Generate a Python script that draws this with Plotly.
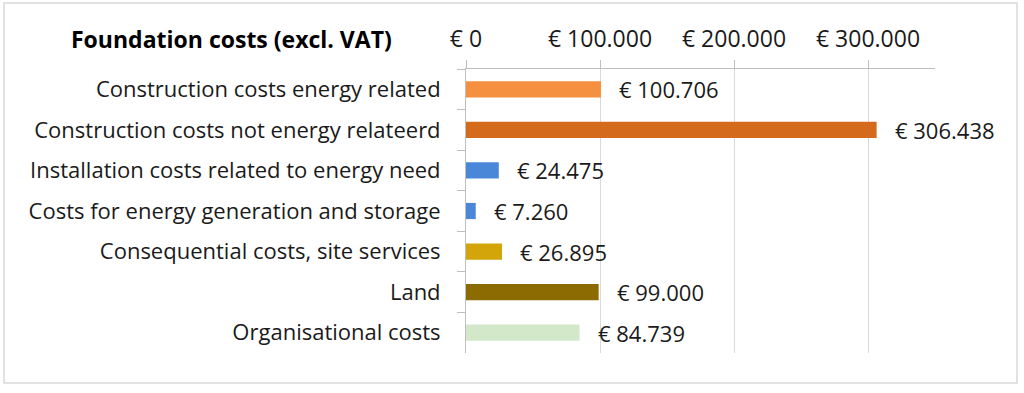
import plotly.graph_objects as go

categories = [
    "Construction costs energy related",
    "Construction costs not energy relateerd",
    "Installation costs related to energy need",
    "Costs for energy generation and storage",
    "Consequential costs, site services",
    "Land",
    "Organisational costs",
]
values = [100706, 306438, 24475, 7260, 26895, 99000, 84739]
bar_colors = ["#F4903F", "#D36A1C", "#4A87D8", "#4A87D8", "#D4A40B", "#8B6B02", "#D2E8C8"]
tick_values = [0, 100000, 200000, 300000]
title_text = "Foundation costs (excl. VAT)"

def euro(v):
    return "€ " + f"{v:,}".replace(",", ".")

tick_text = [euro(v) for v in tick_values]

W, H = 1024, 393
L, R, T, B = 466, 89, 69, 40
pw, ph = W - L - R, H - T - B

FONT = "'Open Sans', Lato, sans-serif"
TXT = "#1a1a1a"

fig = go.Figure(go.Bar(
    x=values, y=categories, orientation="h",
    marker=dict(color=bar_colors, line=dict(width=0)),
    hoverinfo="skip",
))

annotations = [
    dict(x=v, y=c, xref="x", yref="y", text=euro(v), showarrow=False,
         xanchor="left", yanchor="middle", xshift=16,
         font=dict(family=FONT, size=22, color=TXT))
    for c, v in zip(categories, values)
]

def px_x(p):
    return (p - L) / pw

def px_y(p):
    return (H - B - p) / ph

fig.update_layout(
    width=W, height=H,
    margin=dict(l=L, r=R, t=T, b=B, pad=0),
    paper_bgcolor="white", plot_bgcolor="white",
    bargap=0.6,
    showlegend=False,
    title=dict(text="<b>" + title_text + "</b>", xref="container", yref="container",
               x=71 / W, xanchor="left", y=1 - 40 / H, yanchor="middle",
               font=dict(family=FONT, size=23, color="#000000")),
    xaxis=dict(
        side="top", range=[0, 350000],
        tickvals=tick_values, ticktext=tick_text,
        showgrid=True, gridcolor="#D9D9D9", gridwidth=1,
        showline=True, linecolor="#BFBFBF", linewidth=1,
        ticks="outside", ticklen=8, tickcolor="#BFBFBF",
        ticklabelstandoff=4,
        zeroline=False,
        tickfont=dict(family=FONT, size=23, color=TXT),
        fixedrange=True,
    ),
    yaxis=dict(
        autorange="reversed",
        showline=True, linecolor="#BFBFBF", linewidth=1,
        ticks="outside", ticklen=8, tickcolor="#BFBFBF", tickson="boundaries",
        ticklabelstandoff=20,
        showgrid=False,
        tickfont=dict(family=FONT, size=22, color=TXT),
        fixedrange=True,
    ),
    annotations=annotations,
    shapes=[dict(type="rect", xref="paper", yref="paper",
                 x0=px_x(4), x1=px_x(1017), y0=px_y(383), y1=px_y(3),
                 line=dict(color="#D9D9D9", width=1.5), fillcolor="rgba(0,0,0,0)",
                 layer="below")],
)

fig.write_html("out.html", config={"displayModeBar": False},
               post_script="document.body.style.margin='0';document.body.style.padding='0';document.body.style.overflow='hidden';")
